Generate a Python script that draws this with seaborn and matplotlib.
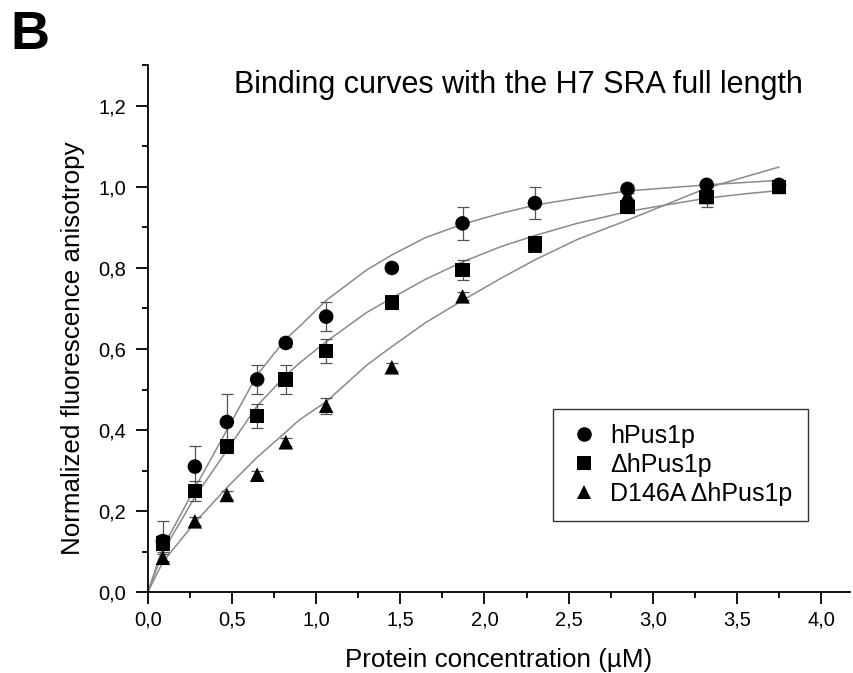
import matplotlib
matplotlib.use("Agg")
import matplotlib.pyplot as plt
from matplotlib.ticker import MultipleLocator, FuncFormatter
import seaborn as sns
import pandas as pd

# protein concentration (uM)
conc = [0.09, 0.28, 0.47, 0.65, 0.82, 1.06, 1.45, 1.87, 2.30, 2.85, 3.32, 3.75]

hpus = [0.126, 0.31, 0.42, 0.525, 0.615, 0.68, 0.80, 0.91, 0.96, 0.995, 1.005, 1.005]
hpus_err = [0.05, 0.05, 0.07, 0.035, 0.01, 0.035, 0.005, 0.04, 0.04, 0.01, 0.005, 0.005]

dh = [0.12, 0.25, 0.36, 0.435, 0.525, 0.595, 0.715, 0.795, 0.86, 0.95, 0.975, 1.0]
dh_err = [0.02, 0.025, 0.015, 0.03, 0.035, 0.03, 0.015, 0.025, 0.015, 0.015, 0.025, 0.005]

d146 = [0.085, 0.175, 0.24, 0.29, 0.37, 0.46, 0.555, 0.73, 0.855, 0.98, 0.975, 1.0]
d146_err = [0.01, 0.01, 0.01, 0.01, 0.01, 0.02, 0.01, 0.01, 0.01, 0.01, 0.01, 0.01]

# fitted curves
fit_x = [0.0, 0.09, 0.28, 0.47, 0.65, 0.82, 0.9, 1.06, 1.3, 1.45, 1.65, 1.87,
         2.1, 2.3, 2.55, 2.85, 3.1, 3.32, 3.55, 3.75]
fit_hpus = [0.0, 0.11, 0.257, 0.40, 0.536, 0.625, 0.655, 0.72, 0.795, 0.832, 0.875, 0.908,
            0.935, 0.955, 0.972, 0.99, 0.998, 1.005, 1.011, 1.016]
fit_dh = [0.0, 0.10, 0.235, 0.35, 0.46, 0.535, 0.565, 0.618, 0.69, 0.726, 0.772, 0.815,
          0.853, 0.88, 0.91, 0.939, 0.957, 0.972, 0.983, 0.991]
fit_d146 = [0.0, 0.075, 0.172, 0.258, 0.333, 0.395, 0.425, 0.47, 0.56, 0.606, 0.665, 0.72,
            0.775, 0.82, 0.87, 0.918, 0.96, 0.997, 1.025, 1.049]

labels = ["hPus1p", "\u0394hPus1p", "D146A \u0394hPus1p"]
markers = {"hPus1p": "o", "\u0394hPus1p": "s", "D146A \u0394hPus1p": "^"}

n, m = len(conc), len(fit_x)
pts = pd.DataFrame({
    "conc": conc * 3,
    "value": hpus + dh + d146,
    "err": hpus_err + dh_err + d146_err,
    "protein": [labels[0]] * n + [labels[1]] * n + [labels[2]] * n,
})
fits = pd.DataFrame({
    "conc": fit_x * 3,
    "value": fit_hpus + fit_dh + fit_d146,
    "protein": [labels[0]] * m + [labels[1]] * m + [labels[2]] * m,
})

sns.set_style("ticks")
plt.rcParams["font.family"] = ["Liberation Sans", "DejaVu Sans"]
plt.rcParams.update({"text.color": "black", "axes.labelcolor": "black",
                     "xtick.color": "black", "ytick.color": "black",
                     "axes.edgecolor": "black"})

fig = plt.figure(figsize=(8.54, 6.73), dpi=100)
ax = fig.add_axes([0.173, 0.12, 0.822, 0.783])

for name, grp in fits.groupby("protein", sort=False):
    sns.lineplot(data=grp, x="conc", y="value", ax=ax, color="#8a8a8a",
                 linewidth=1.1, legend=False, estimator=None, sort=False)

for name, grp in pts.groupby("protein", sort=False):
    ax.errorbar(grp["conc"], grp["value"], yerr=grp["err"], fmt="none",
                ecolor="#555555", elinewidth=0.9, capsize=4, capthick=0.9, zorder=2)

sns.scatterplot(data=pts, x="conc", y="value", style="protein", markers=markers,
                color="black", s=110, edgecolor="black", linewidth=0, ax=ax, zorder=3)

ax.set_xlim(0, 4.17)
ax.set_ylim(0, 1.3)
ax.xaxis.set_major_locator(MultipleLocator(0.5))
ax.xaxis.set_minor_locator(MultipleLocator(0.25))
ax.yaxis.set_major_locator(MultipleLocator(0.2))
ax.yaxis.set_minor_locator(MultipleLocator(0.1))
comma = FuncFormatter(lambda v, p: f"{v:.1f}".replace(".", ","))
ax.xaxis.set_major_formatter(comma)
ax.yaxis.set_major_formatter(comma)
ax.tick_params(which="major", length=8.5, width=1.3, labelsize=14.5, direction="out")
ax.tick_params(which="minor", length=4.2, width=1.3, direction="out")
ax.tick_params(axis="x", which="major", pad=5)
ax.tick_params(axis="y", which="major", pad=7)
for s in ["left", "bottom"]:
    ax.spines[s].set_linewidth(1.3)
sns.despine(ax=ax)

ax.set_xlabel("Protein concentration (\u00b5M)", fontsize=18.7)
ax.set_ylabel("Normalized fluorescence anisotropy", fontsize=18.7)
ax.xaxis.set_label_coords(0.5, -0.105)
ax.yaxis.set_label_coords(-0.09, 0.464)

ax.text(0.528, 0.962, "Binding curves with the H7 SRA full length", transform=ax.transAxes,
        ha="center", va="center", fontsize=22)
fig.text(0.012, 0.985, "B", fontsize=39, fontweight="bold", ha="left", va="top")

leg = ax.legend(loc="lower right", bbox_to_anchor=(0.94, 0.136), fontsize=18, frameon=True,
                fancybox=False, borderpad=0.6, handletextpad=0.4, labelspacing=0.2,
                handlelength=1.3, borderaxespad=0)
leg.get_frame().set_edgecolor("black")
leg.get_frame().set_linewidth(1.0)

fig.savefig("out.png", dpi=100)
